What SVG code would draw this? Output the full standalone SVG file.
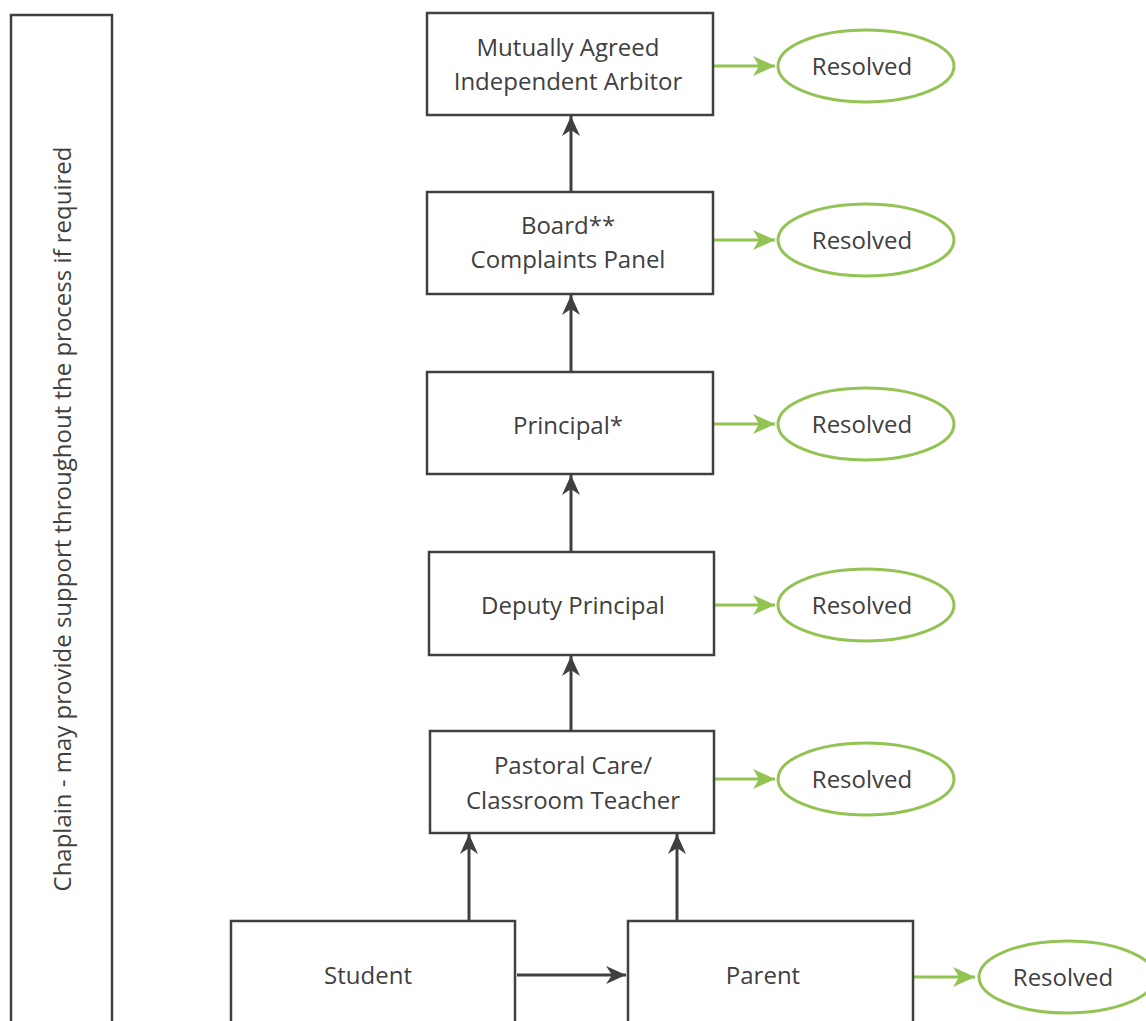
<svg xmlns="http://www.w3.org/2000/svg" width="1146" height="1021" viewBox="0 0 1146 1021">
<style>
.box{fill:#fff;stroke:#404040;stroke-width:2.5}
.res{fill:#fff;stroke:#92C353;stroke-width:3}
.t{font-family:"Open Sans","Liberation Sans",sans-serif;font-size:24px;fill:#404040;text-anchor:middle}
.ca{stroke:#404040;stroke-width:3;fill:none;marker-end:url(#ah)}
.ga{stroke:#92C353;stroke-width:3;fill:none;marker-end:url(#gh)}
</style>
<defs>
<marker id="ah" markerWidth="20" markerHeight="18" refX="20" refY="9" orient="auto" markerUnits="userSpaceOnUse" viewBox="0 0 20 18">
<path d="M0,0 L20,9 L0,18 L6,9 Z" fill="#404040"/>
</marker>
<marker id="gh" markerWidth="22" markerHeight="20" refX="22" refY="10" orient="auto" viewBox="0 0 22 20" markerUnits="userSpaceOnUse">
<path d="M0,0 L22,10 L0,20 L6,10 Z" fill="#92C353"/>
</marker>
</defs>
<rect width="1146" height="1021" fill="#fff"/>
<g id="connectors">
<line class="ca" x1="571" y1="191" x2="571" y2="116"/>
<line class="ca" x1="571" y1="371" x2="571" y2="295"/>
<line class="ca" x1="571" y1="551" x2="571" y2="475"/>
<line class="ca" x1="571" y1="730" x2="571" y2="656"/>
<line class="ca" x1="469" y1="920" x2="469" y2="834"/>
<line class="ca" x1="677" y1="920" x2="677" y2="834"/>
<line class="ca" x1="517" y1="975" x2="626" y2="975"/>
<line class="ga" x1="714" y1="66" x2="775" y2="66"/>
<line class="ga" x1="714" y1="240" x2="775" y2="240"/>
<line class="ga" x1="714" y1="424" x2="775" y2="424"/>
<line class="ga" x1="715" y1="605" x2="775" y2="605"/>
<line class="ga" x1="715" y1="779" x2="775" y2="779"/>
<line class="ga" x1="914" y1="977" x2="975" y2="977"/>
</g>
<g id="chaplain">
<rect class="box" x="11" y="15" width="101" height="1020"/>
<text class="t" transform="translate(71,519) rotate(-90)">Chaplain - may provide support throughout the process if required</text>
</g>
<g id="arbitor">
<rect class="box" x="427" y="13" width="286" height="102"/>
<text class="t" x="568" y="56">Mutually Agreed</text>
<text class="t" x="568" y="90">Independent Arbitor</text>
</g>
<g id="board">
<rect class="box" x="427" y="192" width="286" height="102"/>
<text class="t" x="568" y="234">Board**</text>
<text class="t" x="568" y="268">Complaints Panel</text>
</g>
<g id="principal">
<rect class="box" x="427" y="372" width="286" height="102"/>
<text class="t" x="568" y="434">Principal*</text>
</g>
<g id="deputy">
<rect class="box" x="429" y="552" width="285" height="103"/>
<text class="t" x="573" y="614">Deputy Principal</text>
</g>
<g id="pastoral">
<rect class="box" x="430" y="731" width="284" height="102"/>
<text class="t" x="573" y="774">Pastoral Care/</text>
<text class="t" x="573" y="809">Classroom Teacher</text>
</g>
<g id="student">
<rect class="box" x="231" y="921" width="284" height="120"/>
<text class="t" x="368" y="984">Student</text>
</g>
<g id="parent">
<rect class="box" x="628" y="921" width="285" height="120"/>
<text class="t" x="763" y="984">Parent</text>
</g>
<g id="r1"><ellipse class="res" cx="866" cy="66" rx="88" ry="36"/><text class="t" x="862" y="75">Resolved</text></g>
<g id="r2"><ellipse class="res" cx="866" cy="240" rx="88" ry="36"/><text class="t" x="862" y="249">Resolved</text></g>
<g id="r3"><ellipse class="res" cx="866" cy="424" rx="88" ry="36"/><text class="t" x="862" y="433">Resolved</text></g>
<g id="r4"><ellipse class="res" cx="866" cy="605" rx="88" ry="36"/><text class="t" x="862" y="614">Resolved</text></g>
<g id="r5"><ellipse class="res" cx="866" cy="779" rx="88" ry="36"/><text class="t" x="862" y="788">Resolved</text></g>
<g id="r6"><ellipse class="res" cx="1067" cy="977" rx="88" ry="36"/><text class="t" x="1063" y="986">Resolved</text></g>
</svg>
